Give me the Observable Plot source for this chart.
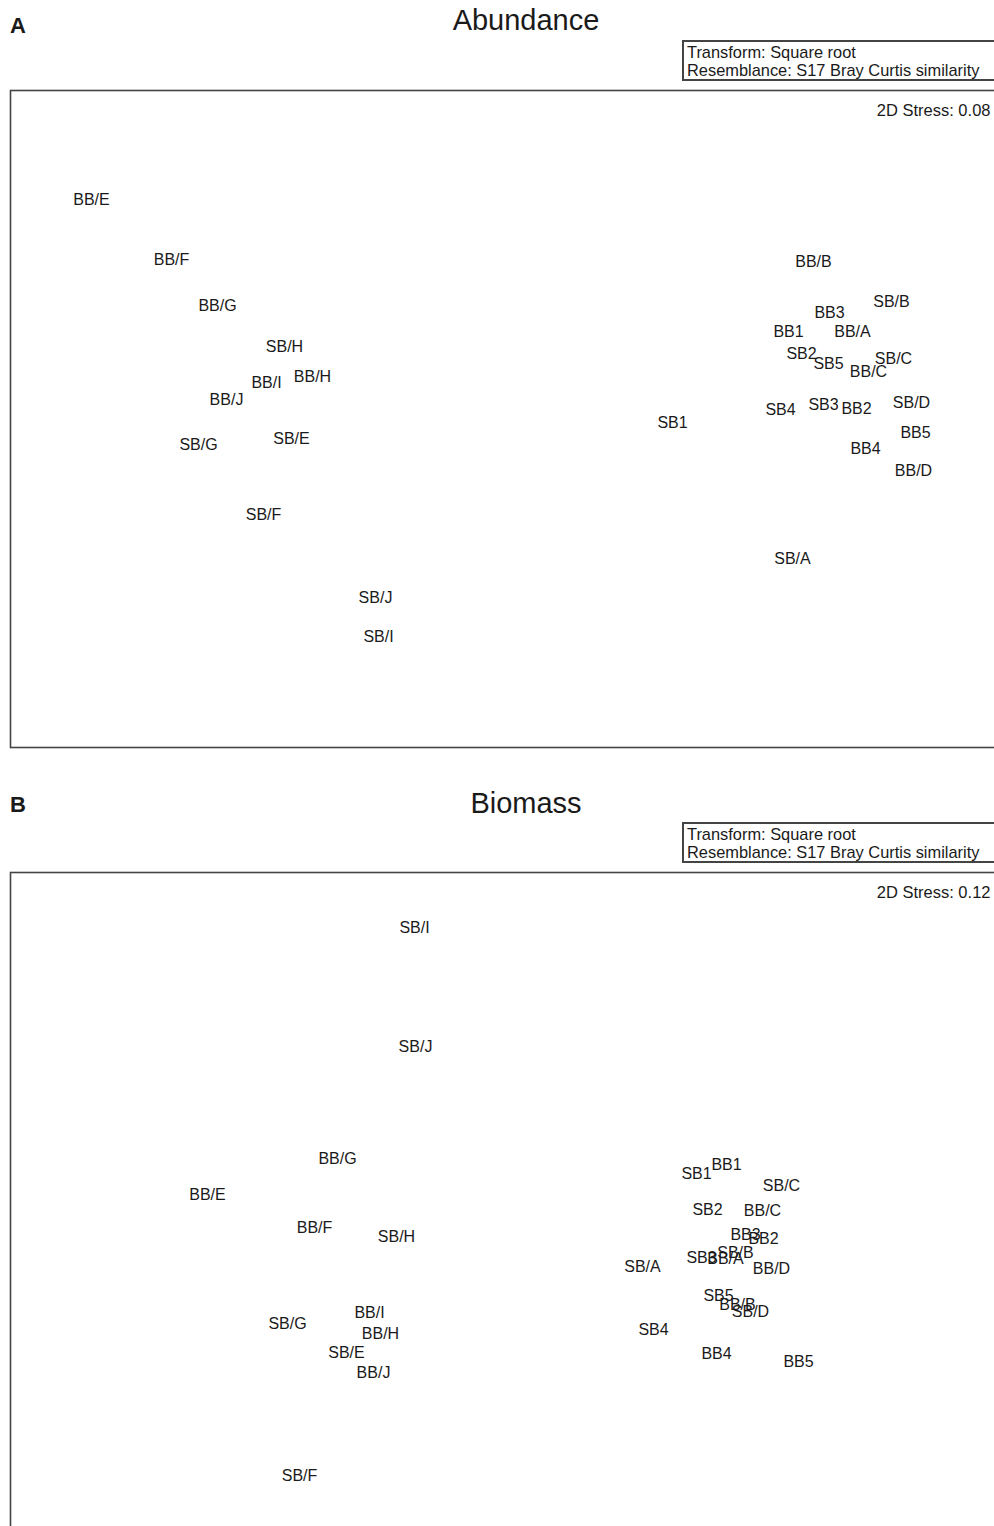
<!DOCTYPE html>
<html>
<head>
<meta charset="utf-8">
<script src="https://cdn.jsdelivr.net/npm/d3@7"></script>
<script src="https://cdn.jsdelivr.net/npm/@observablehq/plot@0.6"></script>
<style>
  html, body { margin: 0; padding: 0; background: #fff; overflow: hidden; width: 994px; height: 1526px; }
  body { font-family: "Liberation Sans", Arial, Helvetica, sans-serif; color: #1a1a1a; }
  .header { position: relative; width: 994px; overflow: hidden; }
  .letter { position: absolute; left: 10px; font-weight: bold; font-size: 22px; }
  .title { position: absolute; left: 0; width: 1052px; text-align: center; font-size: 29px; }
  .box { position: absolute; left: 682px; width: 340px; border: 2px solid #444; box-sizing: border-box;
         font-size: 16.4px; line-height: 18px; padding: 1px 3px; white-space: nowrap; }
  .panel { width: 994px; height: auto; overflow: hidden; }
  .panel svg { max-width: none !important; display: block; }
</style>
</head>
<body>
<div id="hdrA" class="header" style="height:86px">
  <div class="letter" style="top:13px">A</div>
  <div class="title" style="top:4px">Abundance</div>
  <div class="box" style="top:40px;height:41px">Transform: Square root<br>Resemblance: S17 Bray Curtis similarity</div>
</div>
<div id="plotA" class="panel"></div>
<div id="hdrB" class="header" style="height:108px">
  <div class="letter" style="top:32px">B</div>
  <div class="title" style="top:27px">Biomass</div>
  <div class="box" style="top:62px;height:41px">Transform: Square root<br>Resemblance: S17 Bray Curtis similarity</div>
</div>
<div id="plotB" class="panel"></div>
<script>
const samples = ["BB1","BB2","BB3","BB4","BB5","SB1","SB2","SB3","SB4","SB5",
  "BB/A","BB/B","BB/C","BB/D","BB/E","BB/F","BB/G","BB/H","BB/I","BB/J",
  "SB/A","SB/B","SB/C","SB/D","SB/E","SB/F","SB/G","SB/H","SB/I","SB/J"];

const abundanceX = [2.83,3.51,3.24,3.60,4.10, 1.67,2.96,3.18,2.75,3.23,
  3.47,3.08,3.63,4.08,-4.14,-3.34,-2.88,-1.93,-2.39,-2.79,
  2.87,3.86,3.88,4.06,-2.14,-2.42,-3.07,-2.21,-1.27,-1.30];
const abundanceY = [0.87,0.10,1.06,-0.30,-0.14, -0.04,0.65,0.14,0.09,0.55,
  0.87,1.57,0.47,-0.52,2.19,1.59,1.13,0.42,0.36,0.19,
  -1.40,1.17,0.60,0.16,-0.20,-0.96,-0.26,0.72,-2.18,-1.79];

const biomassX = [2.21,2.58,2.40,2.11,2.93, 1.91,2.02,1.96,1.48,2.13,
  2.20,2.32,2.57,2.66,-2.98,-1.91,-1.68,-1.25,-1.36,-1.32,
  1.37,2.30,2.76,2.45,-1.59,-2.06,-2.18,-1.09,-0.91,-0.90];
const biomassY = [0.37,-0.37,-0.33,-1.52,-1.60, 0.28,-0.08,-0.56,-1.28,-0.94,
  -0.57,-1.03,-0.09,-0.67,0.07,-0.26,0.42,-1.32,-1.11,-1.71,
  -0.65,-0.51,0.16,-1.10,-1.51,-2.74,-1.22,-0.35,2.73,1.54];

const stressA = "2D Stress: 0.08";
const stressB = "2D Stress: 0.12";

const font = "'Liberation Sans', Arial, Helvetica, sans-serif";

function mds(xs, ys, stress, yDomain, height, marginBottom) {
  const data = samples.map((s, i) => ({label: s, x: xs[i], y: ys[i]}));
  const svg = Plot.plot({
    width: 1000,
    height,
    marginLeft: 10,
    marginRight: 0,
    marginTop: 4,
    marginBottom,
    x: {domain: [-4.95, 4.95], axis: null},
    y: {domain: yDomain, axis: null},
    style: {fontFamily: font, background: "white", overflow: "visible"},
    marks: [
      Plot.frame({stroke: "#444", strokeWidth: 1.6}),
      Plot.text(data, {x: "x", y: "y", text: "label", fontSize: 16, fill: "#1a1a1a"}),
      Plot.text([stress], {frameAnchor: "top-right", text: d => d, dx: -10, dy: 14,
        textAnchor: "end", fontSize: 16.5, fill: "#1a1a1a"})
    ]
  });
  svg.style.maxWidth = "none";
  svg.style.width = "1000px";
  svg.style.height = height + "px";
  return svg;
}

document.getElementById("plotA").appendChild(
  mds(abundanceX, abundanceY, stressA, [-3.29, 3.28], 674, 13));
document.getElementById("plotB").appendChild(
  mds(biomassX, biomassY, stressB, [-3.34, 3.28], 672, 4));
</script>
</body>
</html>
